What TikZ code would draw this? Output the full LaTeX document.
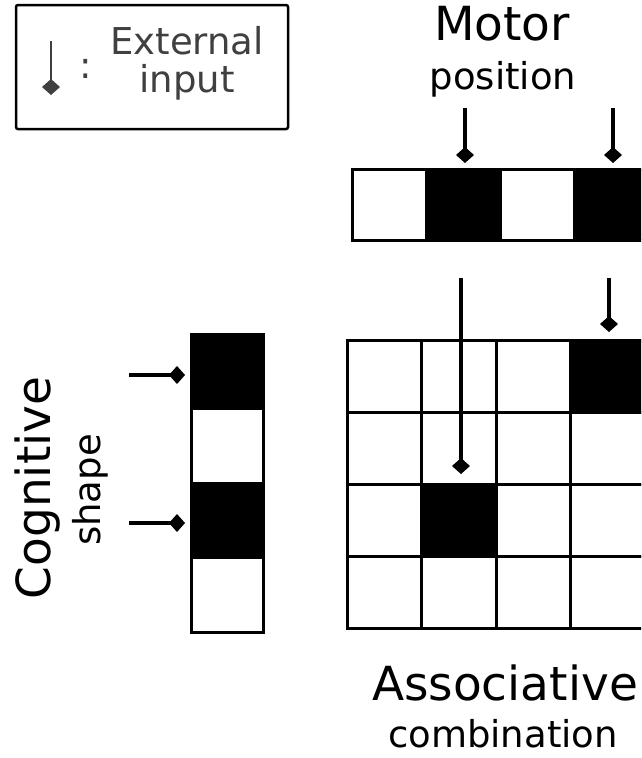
\documentclass[tikz,border=0pt]{standalone}
\usepackage{fontspec}
\setmainfont{DejaVu Sans}
\usetikzlibrary{arrows.meta}
\definecolor{legendgray}{RGB}{64,64,64}
\begin{document}
\begin{tikzpicture}[x=1pt,y=-1pt,
  mcell/.style={draw=black, line width=3pt, minimum width=74.3pt, minimum height=71pt, anchor=north west, inner sep=0pt, outer sep=0pt},
  gcell/.style={draw=black, line width=3pt, minimum width=74.5pt, minimum height=72pt, anchor=north west, inner sep=0pt, outer sep=0pt},
  ccell/.style={draw=black, line width=3pt, minimum width=72pt, minimum height=74.5pt, anchor=north west, inner sep=0pt, outer sep=0pt},
  inp/.style={draw=black, line width=3.2pt, -{Diamond[length=16pt,width=18pt]}},
  biglabel/.style={anchor=base, inner sep=0pt, font=\fontsize{47}{56}\selectfont},
  sublabel/.style={anchor=base, inner sep=0pt, font=\fontsize{37}{44}\selectfont},
  legtext/.style={anchor=base, inner sep=0pt, text=legendgray, font=\fontsize{37}{44}\selectfont}]
\clip (0,0) rectangle (641,758);
\fill[white] (0,0) rectangle (641,758);

% legend
\node[draw=black, line width=2.5pt, rounded corners=2pt, minimum width=272pt, minimum height=124pt, inner sep=0pt] (legend) at (152,67) {};
\coordinate (legA) at (51,41);
\coordinate (legB) at (51,95);
\draw[inp, draw=legendgray, fill=legendgray, line width=2.8pt] (legA) -- (legB);
\node[legtext] (colon) at (86,78) {:};
\node[legtext] (ext) at (187,54) {External};
\node[legtext] (inpt) at (187,92) {input};

% motor labels
\node[biglabel] (motor) at (502,40) {Motor};
\node[sublabel] (pos) at (503,89) {position};

% motor row
\foreach \i/\f in {1/white,2/black,3/white,4/black}
  \node[mcell, fill=\f] (m\i) at ({352+74.3*(\i-1)},169) {};

% grid
\foreach \r in {1,...,4}{
  \foreach \c in {1,...,4}{
    \def\f{white}
    \ifnum\r\c=14 \def\f{black}\fi
    \ifnum\r\c=32 \def\f{black}\fi
    \node[gcell, fill=\f] (g\r\c) at ({347+74.5*(\c-1)},{340+72*(\r-1)}) {};
  }
}

% cognitive column
\foreach \i/\f in {1/black,2/white,3/black,4/white}
  \node[ccell, fill=\f] (c\i) at (191,{334+74.5*(\i-1)}) {};

% labels
\node[biglabel, rotate=90] (cog) at (50,488) {Cognitive};
\node[sublabel, rotate=90] (shape) at (100,490) {shape};
\node[biglabel] (assoc) at (505,700) {Associative};
\node[sublabel] (comb) at (503,747) {combination};

% inputs to motor row
\coordinate (ma2) at (465,108);
\coordinate (ma4) at (613,108);
\draw[inp, shorten >=6pt] (ma2) -- (ma2 |- m2.north);
\draw[inp, shorten >=6pt] (ma4) -- (ma4 |- m4.north);

% inputs to grid
\coordinate (ga1) at (461,278);
\coordinate (ga2) at (609,278);
\draw[inp, shorten >=10pt] (ga1) -- (ga1 |- g32.north);
\draw[inp, shorten >=8pt] (ga2) -- (ga2 |- g14.north);

% inputs to cognitive column
\coordinate (ca1) at (129,375);
\coordinate (ca3) at (129,523);
\draw[inp, shorten >=6pt] (ca1) -- (ca1 -| c1.west);
\draw[inp, shorten >=6pt] (ca3) -- (ca3 -| c3.west);
\end{tikzpicture}
\end{document}
